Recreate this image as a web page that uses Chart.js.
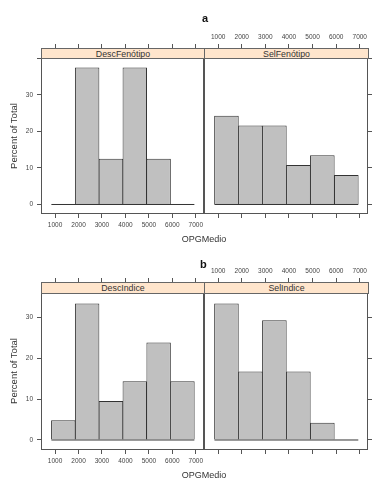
<!DOCTYPE html>
<html>
<head>
<meta charset="utf-8">
<script src="https://cdn.jsdelivr.net/npm/chart.js@4.4.1/dist/chart.umd.min.js"></script>
<style>
html,body{margin:0;padding:0;background:#fff;}
#wrap{position:relative;width:390px;height:492px;overflow:hidden;font-family:"Liberation Sans",Arial,sans-serif;}
#wrap canvas{position:absolute;}
.t{position:absolute;white-space:nowrap;color:#333;z-index:5;}
.title{position:absolute;font-weight:bold;color:#111;font-size:11px;line-height:11px;z-index:5;}
.strip{position:absolute;box-sizing:border-box;background:#FFE5CC;border:1px solid #666;color:#333;font-size:8.8px;display:flex;align-items:center;justify-content:center;z-index:5;}
.xl{font-size:9px;line-height:9px;transform:translate(-50%,-50%);}
.yl{font-size:9.5px;line-height:9.5px;transform:translate(-50%,-50%) rotate(-90deg);}
</style>
</head>
<body>
<div id="wrap">
  <div class="title" style="left:202px;top:13px;">a</div>
  <div class="title" style="left:200px;top:259px;">b</div>
  <div class="strip" style="left:41px;top:48px;width:164px;height:11px;">DescFenótipo</div>
  <div class="strip" style="left:204px;top:48px;width:165px;height:11px;">SelFenótipo</div>
  <div class="strip" style="left:41px;top:282px;width:164px;height:12px;">DescIndice</div>
  <div class="strip" style="left:204px;top:282px;width:165px;height:12px;">SelIndice</div>
  <div class="t xl" style="left:204px;top:239px;">OPGMedio</div>
  <div class="t xl" style="left:204px;top:475px;">OPGMedio</div>
  <div class="t yl" style="left:14px;top:136px;">Percent of Total</div>
  <div class="t yl" style="left:14px;top:371px;">Percent of Total</div>
</div>
<script>
// ---- data ----
const binEdges   = [843, 1859, 2875, 3891, 4907, 5923, 6939];
const binCenters = [1351, 2367, 3383, 4399, 5415, 6431];
const xTickValues = [1000, 2000, 3000, 4000, 5000, 6000, 7000];
const yTickValues = [0, 10, 20, 30, 40];
const yLabelledTicks = [0, 10, 20, 30];
const descFenotipo = [0, 37.5, 12.5, 37.5, 12.5, 0];
const selFenotipo  = [24.3, 21.6, 21.6, 10.8, 13.5, 8.1];
const descIndice   = [4.8, 33.3, 9.5, 14.3, 23.8, 14.3];
const selIndice    = [33.3, 16.7, 29.2, 16.7, 4.2, 0];

const FONT = '"Liberation Sans", Arial, sans-serif';
const X_MIN = 400, X_MAX = 7350;

const boxPlugin = {
  id: 'box',
  afterDatasetsDraw(chart) {
    const a = chart.chartArea, c = chart.ctx;
    c.save();
    c.strokeStyle = '#555';
    c.lineWidth = 1;
    c.strokeRect(a.left + 0.5, a.top + 0.5, a.right - a.left - 1, a.bottom - a.top - 1);
    c.restore();
  }
};

function panel(vals, cv, area, side, yMin, yMax, bottomLabels, topLabels) {
  const canvas = document.createElement('canvas');
  canvas.width = cv.w; canvas.height = cv.h;
  canvas.style.left = cv.l + 'px'; canvas.style.top = cv.t + 'px';
  canvas.style.width = cv.w + 'px'; canvas.style.height = cv.h + 'px';
  document.getElementById('wrap').appendChild(canvas);

  const topH = area.t - cv.t;
  const botH = (cv.t + cv.h) - area.b;
  const pad = side === 'left'
    ? {left: 0, top: 0, bottom: 0, right: (cv.l + cv.w) - area.r}
    : {left: area.l - cv.l, top: 0, bottom: 0, right: 0};
  const yW = side === 'left' ? area.l - cv.l : (cv.l + cv.w) - area.r;

  const grid = {display: true, drawOnChartArea: false, drawTicks: true, tickLength: 4, color: '#555', lineWidth: 1, offset: false};
  const xAxis = (pos, h, show) => ({
    type: 'linear', position: pos, min: X_MIN, max: X_MAX, offset: false,
    grid: grid, border: {display: false},
    ticks: {font: {family: FONT, size: 6.5}, color: '#444', padding: 3, maxRotation: 0, autoSkip: false,
            callback: (v) => show ? String(v) : ''},
    afterBuildTicks: (s) => { s.ticks = xTickValues.map(v => ({value: v})); },
    afterFit: (s) => { s.height = h; }
  });

  new Chart(canvas, {
    type: 'bar',
    data: {
      datasets: [
        {
          type: 'bar',
          data: binCenters.map((x, i) => ({x: x, y: vals[i]})),
          backgroundColor: '#C0C0C0',
          borderColor: '#333',
          borderWidth: 1,
          borderSkipped: 'start',
          barPercentage: 1.042,
          categoryPercentage: 1,
          xAxisID: 'x', yAxisID: 'y',
          order: 1
        },
        {
          type: 'line',
          data: [{x: binEdges[0], y: 0}, {x: binEdges[binEdges.length - 1], y: 0}],
          borderColor: '#333',
          borderWidth: 1,
          pointRadius: 0,
          fill: false,
          xAxisID: 'x', yAxisID: 'y',
          order: 0
        }
      ]
    },
    options: {
      responsive: false,
      animation: false,
      devicePixelRatio: 1,
      layout: {padding: pad},
      plugins: {legend: {display: false}, tooltip: {enabled: false}, title: {display: false}},
      scales: {
        x: xAxis('bottom', botH, bottomLabels),
        xTop: xAxis('top', topH, topLabels),
        y: {
          type: 'linear', position: side, min: yMin, max: yMax, beginAtZero: false,
          grid: grid, border: {display: false},
          ticks: {font: {family: FONT, size: 6.5}, color: '#444', padding: 4,
                  callback: (v) => (side === 'left' && yLabelledTicks.includes(v)) ? String(v) : ''},
          afterBuildTicks: (s) => { s.ticks = yTickValues.filter(v => v >= yMin && v <= yMax).map(v => ({value: v})); },
          afterFit: (s) => { s.width = yW; }
        }
      }
    },
    plugins: [boxPlugin]
  });
}

// top row (a)
panel(descFenotipo, {l: 0, t: 36, w: 210, h: 200}, {l: 41, t: 48, r: 204, b: 214}, 'left', -2.6, 42.8, true, false);
panel(selFenotipo, {l: 198, t: 24, w: 184, h: 200}, {l: 204, t: 48, r: 368, b: 214}, 'right', -2.6, 42.8, false, true);
// bottom row (b)
panel(descIndice, {l: 0, t: 270, w: 210, h: 202}, {l: 41, t: 282, r: 204, b: 450}, 'left', -2.44, 38.54, true, false);
panel(selIndice, {l: 198, t: 258, w: 184, h: 202}, {l: 204, t: 282, r: 368, b: 450}, 'right', -2.44, 38.54, false, true);
</script>
</body>
</html>
